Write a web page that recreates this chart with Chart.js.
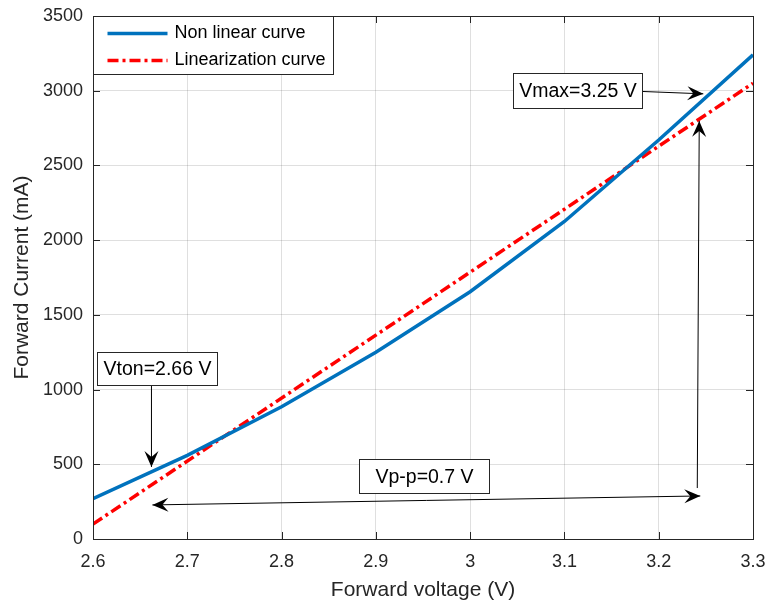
<!DOCTYPE html>
<html>
<head>
<meta charset="utf-8">
<script src="https://cdn.jsdelivr.net/npm/chart.js@4.4.1/dist/chart.umd.min.js"></script>
<style>
    html, body { margin: 0; padding: 0; background: #fff; }
</style>
</head>
<body>
<canvas id="chart" width="765" height="603"></canvas>
<script>
// Data
const voltage = [2.6, 2.7, 2.8, 2.9, 3.0, 3.1, 3.2, 3.3];
const currentNonLinear = [270, 560, 885, 1250, 1655, 2125, 2670, 3240];

const linVoltage = [2.6, 3.3];
const linCurrent = [100, 3050];

const xTicks = [2.6, 2.7, 2.8, 2.9, 3.0, 3.1, 3.2, 3.3];
const yTicks = [0, 500, 1000, 1500, 2000, 2500, 3000, 3500];

const seriesLabels = ['Non linear curve', 'Linearization curve'];

// Text boxes and arrows, in data units (left, top, right, bottom)
const noteBoxes = [
    { text: 'Vton=2.66 V', box: [2.6047, 1252, 2.732, 1031] },
    { text: 'Vmax=3.25 V', box: [3.0458, 3119, 3.1826, 2885] },
    { text: 'Vp-p=0.7 V', box: [2.8824, 535, 3.0203, 308] },
];
const noteArrows = [
    { from: [2.662, 1031], to: [2.662, 482] },
    { from: [3.1826, 2995], to: [3.2473, 2979] },
    { from: [3.2409, 341], to: [3.243, 2798] },
    { from: [3.2441, 288], to: [2.663, 228], both: true },
];

const FONT = '"Liberation Sans", Arial, Helvetica, sans-serif';
const AXIS_COLOR = '#262626';
const BLUE = '#0072BD';
const RED = '#FF0000';
const RED_DASH = [11, 4, 3, 4];

function arrowHead(ctx, x0, y0, x1, y1) {
    // MATLAB "vback2" style head, tip at (x1, y1)
    const len = 16, half = 7, notch = 6;
    const a = Math.atan2(y1 - y0, x1 - x0);
    const ux = Math.cos(a), uy = Math.sin(a);
    const px = -uy, py = ux;
    const bx = x1 - ux * len, by = y1 - uy * len;
    ctx.beginPath();
    ctx.moveTo(x1, y1);
    ctx.lineTo(bx + px * half, by + py * half);
    ctx.lineTo(x1 - ux * (len - notch), y1 - uy * (len - notch));
    ctx.lineTo(bx - px * half, by - py * half);
    ctx.closePath();
    ctx.fill();
}

const matlabFrame = {
    id: 'matlabFrame',
    afterDatasetsDraw(chart) {
        const { ctx, chartArea: a, scales: { x, y } } = chart;
        ctx.save();

        // axes box and inward ticks
        ctx.strokeStyle = AXIS_COLOR;
        ctx.lineWidth = 1;
        ctx.strokeRect(Math.round(a.left) + 0.5, Math.round(a.top) + 0.5,
            Math.round(a.right - a.left), Math.round(a.bottom - a.top));
        const tl = 7;
        ctx.beginPath();
        xTicks.forEach(v => {
            const px = Math.round(x.getPixelForValue(v)) + 0.5;
            ctx.moveTo(px, a.bottom); ctx.lineTo(px, a.bottom - tl);
            ctx.moveTo(px, a.top); ctx.lineTo(px, a.top + tl);
        });
        yTicks.forEach(v => {
            const py = Math.round(y.getPixelForValue(v)) + 0.5;
            ctx.moveTo(a.left, py); ctx.lineTo(a.left + tl, py);
            ctx.moveTo(a.right, py); ctx.lineTo(a.right - tl, py);
        });
        ctx.stroke();

        // legend
        const lx = Math.round(a.left) + 0.5, ly = Math.round(a.top) + 0.5;
        ctx.fillStyle = '#fff';
        ctx.fillRect(lx, ly, 240, 58);
        ctx.strokeStyle = AXIS_COLOR;
        ctx.strokeRect(lx, ly, 240, 58);
        const rows = [
            { color: BLUE, dash: [], y: ly + 17 },
            { color: RED, dash: RED_DASH, y: ly + 44 },
        ];
        rows.forEach((r, i) => {
            ctx.beginPath();
            ctx.setLineDash(r.dash);
            ctx.strokeStyle = r.color;
            ctx.lineWidth = 3.5;
            ctx.moveTo(lx + 14, r.y);
            ctx.lineTo(lx + 74, r.y);
            ctx.stroke();
            ctx.setLineDash([]);
            ctx.fillStyle = '#000';
            ctx.font = '18px ' + FONT;
            ctx.textBaseline = 'middle';
            ctx.textAlign = 'left';
            ctx.fillText(seriesLabels[i], lx + 81, r.y);
        });

        // annotations
        ctx.lineWidth = 1;
        ctx.strokeStyle = '#000';
        ctx.fillStyle = '#000';
        noteArrows.forEach(ar => {
            const x0 = x.getPixelForValue(ar.from[0]), y0 = y.getPixelForValue(ar.from[1]);
            const x1 = x.getPixelForValue(ar.to[0]), y1 = y.getPixelForValue(ar.to[1]);
            ctx.beginPath();
            ctx.moveTo(x0, y0);
            ctx.lineTo(x1, y1);
            ctx.stroke();
            arrowHead(ctx, x0, y0, x1, y1);
            if (ar.both) arrowHead(ctx, x1, y1, x0, y0);
        });
        noteBoxes.forEach(n => {
            const l = Math.round(x.getPixelForValue(n.box[0])) + 0.5;
            const t = Math.round(y.getPixelForValue(n.box[1])) + 0.5;
            const r = Math.round(x.getPixelForValue(n.box[2])) + 0.5;
            const b = Math.round(y.getPixelForValue(n.box[3])) + 0.5;
            ctx.fillStyle = '#fff';
            ctx.fillRect(l, t, r - l, b - t);
            ctx.strokeStyle = '#262626';
            ctx.strokeRect(l, t, r - l, b - t);
            ctx.fillStyle = '#000';
            ctx.font = '19.5px ' + FONT;
            ctx.textAlign = 'center';
            ctx.textBaseline = 'middle';
            ctx.fillText(n.text, (l + r) / 2, (t + b) / 2 + 1);
        });

        ctx.restore();
    }
};

new Chart(document.getElementById('chart'), {
    type: 'line',
    data: {
        datasets: [
            {
                label: seriesLabels[0],
                data: voltage.map((v, i) => ({ x: v, y: currentNonLinear[i] })),
                borderColor: BLUE,
                borderWidth: 3.5,
                pointRadius: 0,
                tension: 0,
            },
            {
                label: seriesLabels[1],
                data: linVoltage.map((v, i) => ({ x: v, y: linCurrent[i] })),
                borderColor: RED,
                borderWidth: 3.5,
                borderDash: RED_DASH,
                pointRadius: 0,
                tension: 0,
            },
        ]
    },
    options: {
        responsive: false,
        animation: false,
        layout: { padding: { top: 16, right: 12, left: 0, bottom: 0 } },
        plugins: {
            legend: { display: false },
            tooltip: { enabled: false },
        },
        scales: {
            x: {
                type: 'linear',
                min: 2.6,
                max: 3.3,
                afterBuildTicks: (s) => { s.ticks = xTicks.map(v => ({ value: v })); },
                afterFit: (s) => { s.height = 64; s.paddingLeft = 0; s.paddingRight = 0; },
                grid: { color: 'rgba(38,38,38,0.15)', drawTicks: false },
                border: { display: false },
                ticks: {
                    padding: 12,
                    color: AXIS_COLOR,
                    font: { family: FONT, size: 18 },
                    maxRotation: 0,
                    callback: (v) => String(Math.round(v * 10) / 10),
                },
                title: {
                    display: true,
                    text: 'Forward voltage (V)',
                    color: AXIS_COLOR,
                    font: { family: FONT, size: 21, lineHeight: 1.2 },
                    padding: { top: 0, bottom: 0 },
                },
            },
            y: {
                min: 0,
                max: 3500,
                afterBuildTicks: (s) => { s.ticks = yTicks.map(v => ({ value: v })); },
                afterFit: (s) => { s.width = 93; s.paddingTop = 0; s.paddingBottom = 0; },
                grid: { color: 'rgba(38,38,38,0.15)', drawTicks: false },
                border: { display: false },
                ticks: {
                    padding: 10,
                    color: AXIS_COLOR,
                    font: { family: FONT, size: 18 },
                    callback: (v) => String(v),
                },
                title: {
                    display: true,
                    text: 'Forward Current (mA)',
                    color: AXIS_COLOR,
                    font: { family: FONT, size: 21, lineHeight: 1.2 },
                    padding: { top: 10, bottom: 0 },
                },
            },
        },
    },
    plugins: [matlabFrame],
});
</script>
</body>
</html>
